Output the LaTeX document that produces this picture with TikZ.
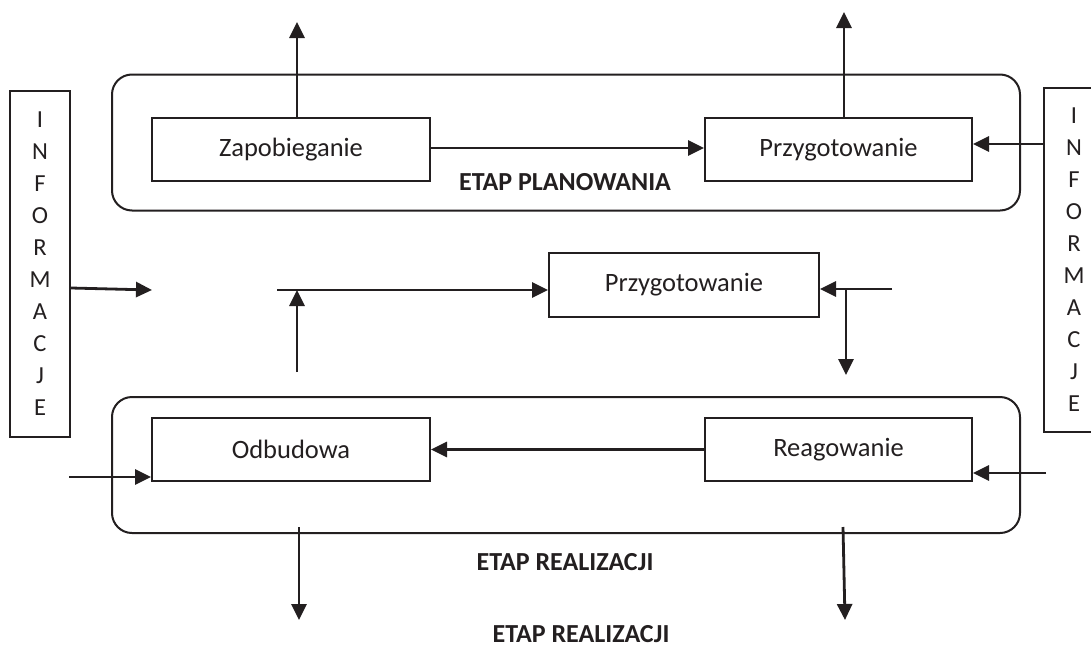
\documentclass[tikz,border=0pt]{standalone}
\usepackage{fontspec}
\setmainfont{Carlito}
\usetikzlibrary{arrows.meta}
\definecolor{ink}{HTML}{231F20}
\begin{document}
\begin{tikzpicture}[x=1pt,y=-1pt,
  every node/.style={text=ink, font=\fontsize{26.5}{30}\selectfont},
  box/.style={draw=ink, line width=2pt, inner sep=0pt, minimum height=63pt},
  phase/.style={draw=ink, line width=2pt, rounded corners=20pt, inner sep=0pt, minimum width=908pt, minimum height=136pt},
  infobox/.style={draw=ink, line width=2pt, inner sep=0pt, minimum width=60pt, align=center, font=\fontsize{24.5}{32}\selectfont},
  lbl/.style={font=\fontsize{26}{30}\selectfont\bfseries, inner sep=0pt},
  arr/.style={draw=ink, line width=2.8pt, -{Triangle[length=16pt,width=15pt]}}
]
\useasboundingbox (0,0) rectangle (1091,648);
\fill[white] (0,0) rectangle (1091,648);

% phase frames
\node[phase] (plan) at (566,142.5) {};
\node[phase] (real) at (566,465) {};

% step boxes
\node[box, minimum width=278pt] (zap) at (291,149.5) {Zapobieganie};
\node[box, minimum width=267pt] (prz1) at (838.5,149.5) {Przygotowanie};
\node[box, minimum width=270pt, minimum height=64pt] (prz2) at (684,285) {Przygotowanie};
\node[box, minimum width=278pt] (odb) at (291,449.5) {Odbudowa};
\node[box, minimum width=267pt] (rea) at (838.5,449.5) {Reagowanie};

% information boxes
\node[infobox, minimum height=346pt] (infoL) at (40,264) {I\\N\\F\\O\\R\\M\\A\\C\\J\\E};
\node[infobox, minimum height=344pt] (infoR) at (1074,260) {I\\N\\F\\O\\R\\M\\A\\C\\J\\E};

% labels
\node[lbl] (lplan) at (565,182) {ETAP PLANOWANIA};
\node[lbl] (lreal1) at (565,562.5) {ETAP REALIZACJI};
\node[lbl] (lreal2) at (581,634.5) {ETAP REALIZACJI};

% free ends
\coordinate (t1) at (297,22);
\coordinate (t2) at (844,12);
\coordinate (c1) at (152,290);
\coordinate (c2) at (277,290);
\coordinate (c3) at (297,372);
\coordinate (c4) at (892,289);
\coordinate (c5) at (846,375);
\coordinate (c6) at (69,477);
\coordinate (c7) at (1046,473);
\coordinate (c8) at (144,144);
\coordinate (b1) at (299,620);
\coordinate (b2) at (845,620);

% connectors
\draw[arr] (t1 |- zap.north) -- (t1);
\draw[arr] (t2 |- prz1.north) -- (t2);
\draw[arr] (zap.east |- 0,148) -- (prz1.west |- 0,148);
\draw[arr] (infoR.west |- c8) -- (prz1.east |- c8);
\draw[arr] (infoL.east |- 0,288) -- (c1);
\draw[arr] (c2) -- (prz2.west |- c2);
\draw[arr] (c3) -- (c3 |- c2);
\draw[arr] (c4) -- (prz2.east |- c4);
\draw[arr] (c5 |- c4) -- (c5);
\draw[arr] (rea.west) -- (odb.east);
\draw[arr] (c6) -- (odb.west |- c6);
\draw[arr] (c7) -- (rea.east |- c7);
\draw[arr] (b1 |- 0,527) -- (b1);
\draw[arr] (843,527) -- (b2);
\end{tikzpicture}
\end{document}
